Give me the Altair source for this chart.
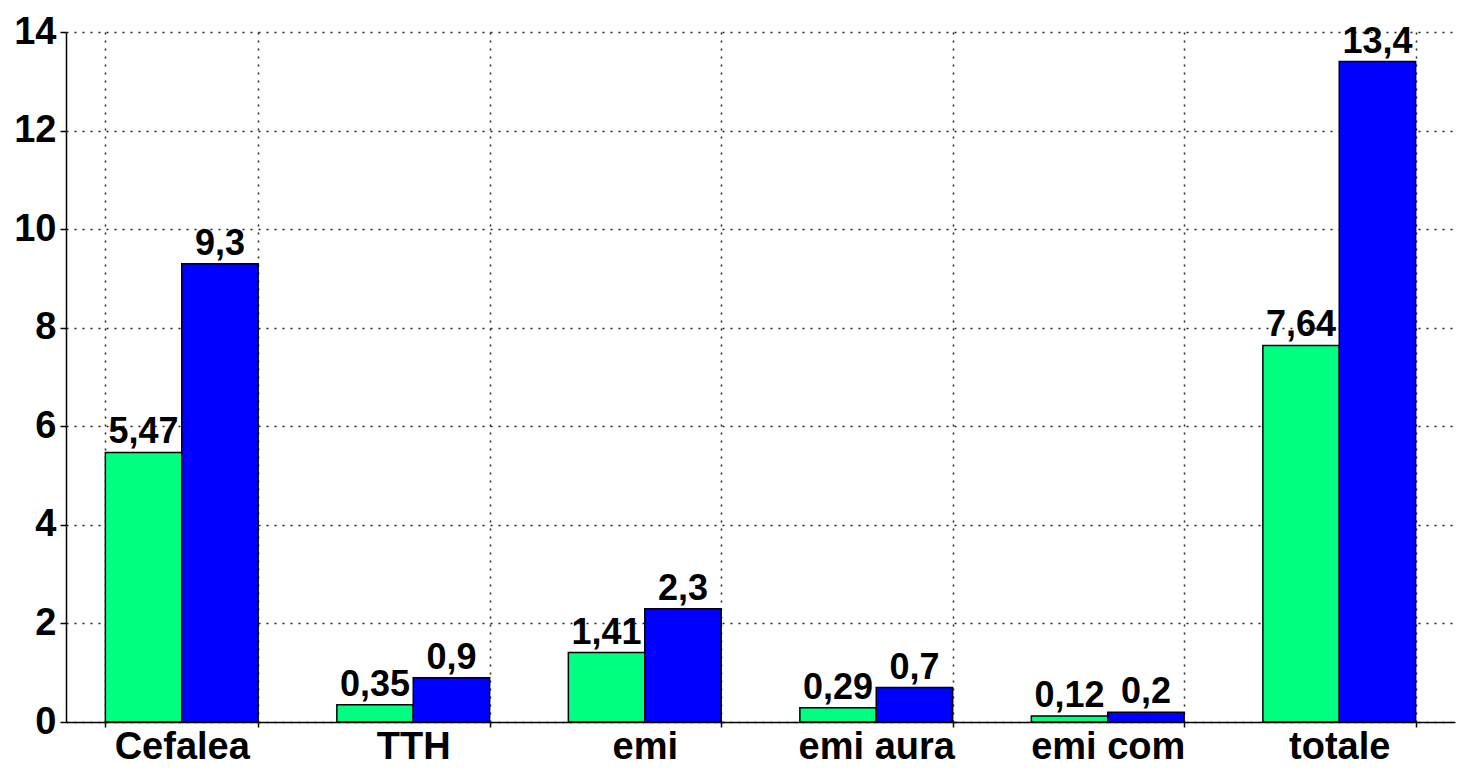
import altair as alt
import pandas as pd

categories = ["Cefalea", "TTH", "emi", "emi aura", "emi com", "totale"]
series_names = ["serie 1", "serie 2"]
green_values = [5.47, 0.35, 1.41, 0.29, 0.12, 7.64]
blue_values = [9.3, 0.9, 2.3, 0.7, 0.2, 13.4]
y_ticks = [0, 2, 4, 6, 8, 10, 12, 14]

rows = []
for c, g, b in zip(categories, green_values, blue_values):
    rows.append({"cat": c, "serie": series_names[0], "val": g, "lab": str(g).replace(".", ",")})
    rows.append({"cat": c, "serie": series_names[1], "val": b, "lab": str(b).replace(".", ",")})
df = pd.DataFrame(rows)

FONT = "Liberation Sans"

x_enc = alt.X(
    "cat:N",
    sort=categories,
    scale=alt.Scale(paddingInner=0.34, paddingOuter=0.17),
    axis=alt.Axis(
        title=None, labelAngle=0, tickBand="extent", grid=True,
        gridDash=[2, 6], gridColor="#222222", gridWidth=1.5, gridOpacity=1,
        labelFont=FONT, labelFontSize=38, labelFontWeight="bold", labelColor="#000000",
        domainColor="#000000", domainWidth=1.5, tickColor="#000000", tickWidth=1.5,
        tickSize=5, labelPadding=1,
    ),
)
y_enc = alt.Y(
    "val:Q",
    scale=alt.Scale(domain=[0, 14], nice=False, zero=True),
    axis=alt.Axis(
        title=None, values=y_ticks, grid=True,
        gridDash=[2, 6], gridColor="#222222", gridWidth=1.5, gridOpacity=1,
        labelFont=FONT, labelFontSize=38, labelFontWeight="bold", labelColor="#000000",
        domainColor="#000000", domainWidth=1.5, tickColor="#000000", tickWidth=1.5,
        tickSize=6, labelPadding=4,
    ),
)
xoff = alt.XOffset("serie:N", sort=series_names)

base = alt.Chart(df).encode(x=x_enc, xOffset=xoff, y=y_enc)

bars = base.mark_bar(stroke="#000000", strokeWidth=1.5).encode(
    color=alt.Color(
        "serie:N",
        scale=alt.Scale(domain=series_names, range=["#00FF80", "#0000FF"]),
        legend=None,
    )
)
texts = base.mark_text(
    baseline="bottom", dy=-1, font=FONT, fontSize=36, fontWeight="bold", color="#000000"
).encode(text="lab:N")

chart = (
    alt.layer(bars, texts)
    .properties(
        width=1452,
        height=763,
        autosize=alt.AutoSizeParams(type="fit", contains="padding"),
        background="white",
    )
    .configure_view(stroke=None)
)

chart.save("out.html", embed_options={"renderer": "svg", "actions": False})
